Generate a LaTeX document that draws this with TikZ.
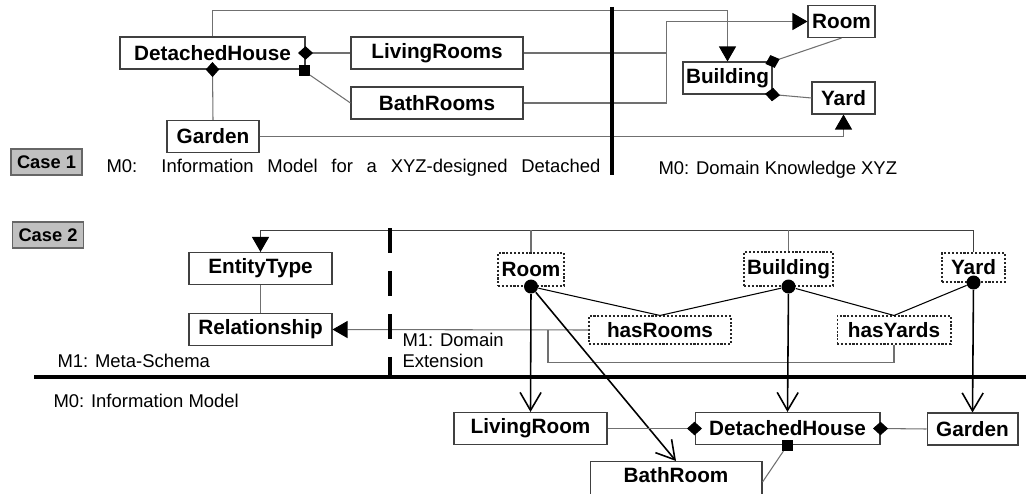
\documentclass[tikz,border=0pt]{standalone}
\usepackage{fontspec}
\setmainfont{Liberation Sans}
\usetikzlibrary{arrows.meta, calc}
\definecolor{cline}{HTML}{707070}
\definecolor{cedge}{HTML}{404040}
\definecolor{ccase}{HTML}{C0C0C0}
\tikzset{
  every picture/.style={line width=0.6pt},
  cls/.style={draw=cedge, fill=white, inner sep=0pt, minimum height=0.64cm,
              font=\fontsize{11.8}{14}\selectfont\bfseries},
  ext/.style={cls, draw=black!85, dash pattern=on 1.2pt off 1pt},
  casebox/.style={draw=black!60, fill=ccase, inner sep=0pt, minimum width=1.42cm,
                  minimum height=0.52cm, font=\fontsize{10.4}{12}\selectfont\bfseries},
  conn/.style={draw=cline, line width=0.6pt},
  agg/.style={{Diamond[length=0.3cm, width=0.27cm, color=black]}-, shorten <=-0.15cm},
  tri/.style={-{Triangle[length=0.3cm, width=0.34cm, color=black]}},
  inst/.style={-{Straight Barb[length=0.36cm, width=0.42cm]}, draw=black, line width=0.9pt},
  dot/.style={circle, fill=black, inner sep=0pt, minimum size=0.28cm},
  sqbox/.style={rectangle, fill=black, inner sep=0pt, minimum size=0.22cm},
  wall/.style={line width=2.8pt},
  note/.style={font=\fontsize{10.5}{11.9}\selectfont, align=left, inner sep=0pt},
}

\begin{document}
\begin{tikzpicture}[x=0.02cm, y=-0.02cm]
  \useasboundingbox (0,0) rectangle (1026,493);
  \clip (0,0) rectangle (1026,493);

  % case 1: information model and domain knowledge
  \foreach \n/\x/\y/\w/\t in {
      dh1/212.5/53/3.7/DetachedHouse, lr1/437/53/3.44/LivingRooms,
      br1/437/103/3.44/BathRooms, gd1/213/136.5/1.84/Garden,
      room1/841.5/21.5/1.34/Room, bld1/727.5/78/1.78/Building,
      yard1/843.5/98/1.26/Yard} {
    \node[cls, minimum width=\w cm] (\n) at (\x,\y) {\t};
  }
  \node[sqbox] (sq1) at (304,71) {};
  \coordinate (j1) at (666,53);
  \draw[conn, agg] (dh1.east) -- (lr1.west);
  \draw[conn] (sq1) -- (br1.west);
  \draw[conn, agg] (dh1.south) -- (gd1.north);
  \draw[conn, tri] (dh1.north) -- ++(0,-26) -| (bld1.north);
  \draw[conn] (lr1.east) -- (j1);
  \draw[conn, tri] (br1.east) -- ++(143,0) |- (room1.west);
  \draw[conn, tri] (gd1.east) -| (yard1.south);
  \draw[conn, agg] (bld1.north east) -- (room1.south);
  \draw[conn, agg] (bld1.south east) -- (yard1.west);
  \draw[wall] (612,7) -- (612,175);

  \node[casebox] (case1) at (46.5,162) {Case 1};
  \node[note, anchor=base west] (m0im) at (106,173)
    {\makebox[9.88cm][s]{M0: Information Model for a XYZ-designed Detached}};
  \node[note, anchor=base west] (m0dk) at (658,174) {M0: Domain Knowledge XYZ};

  % case 2: meta-schema, domain extension, information model
  \node[casebox] (case2) at (48,235) {Case 2};
  \foreach \n/\x/\y/\w/\t in {
      et/260.5/268.5/2.86/EntityType, rel/260.5/329.5/2.86/Relationship,
      lr2/530.5/428.5/3.06/LivingRoom, dh2/787.5/428.5/3.7/DetachedHouse,
      gd2/972.5/429/1.82/Garden} {
    \node[cls, minimum width=\w cm] (\n) at (\x,\y) {\t};
  }
  \node[cls, minimum width=3.44cm, anchor=north, text height=0.42cm, text depth=0.4cm]
    (bath) at (676,461) {BathRoom};
  \foreach \n/\x/\y/\w/\h/\t in {
      xroom/531/269.5/1.32/0.66/Room, xbld/788.5/269/1.78/0.68/Building,
      xyard/973.5/267.5/1.26/0.58/Yard, hasr/660/330/2.84/0.56/hasRooms,
      hasy/894/330/2.28/0.56/hasYards} {
    \node[ext, minimum width=\w cm, minimum height=\h cm] (\n) at (\x,\y) {\t};
  }
  \node[dot] (rdot) at (xroom.south) {};
  \node[dot] (bdot) at (xbld.south) {};
  \node[dot] (ydot) at (xyard.south) {};
  \node[sqbox] (sq2) at (dh2.south) {};

  \coordinate (j2) at (548,330);
  \draw[conn, draw=black!75, tri] (xyard.north) -- ++(0,-22) -| (et.north);
  \draw[conn] (xroom.north) -- ++(0,-22);
  \draw[conn] (xbld.north) -- ++(0,-21);
  \draw[conn] (et) -- (rel);
  \draw[conn, tri] (hasr.west) -- (rel.east);
  \draw[conn] (hasy.south) -- ++(0,18) -| (j2);
  \foreach \a/\b in {rdot/hasr, bdot/hasr, bdot/hasy, ydot/hasy}
    \draw (\a) -- (\b.north);
  \foreach \a/\b in {rdot/lr2, rdot/bath, bdot/dh2, ydot/gd2}
    \draw[inst] (\a) -- (\b.north);
  \draw[conn, agg] (dh2.west) -- (lr2.east);
  \draw[conn, agg] (dh2.east) -- (gd2.west);
  \draw[conn] (sq2) -- (bath.east);

  \draw[wall, line width=2.3pt, dash pattern=on 0.5cm off 0.36cm] (390,228) -- (390,377);
  \draw[wall] (34,377) -- (1026,377);
  \node[note, anchor=base west] (m1ms) at (57,367) {M1: Meta-Schema};
  \node[note, anchor=north west] (m1de) at (402,333) {M1: Domain\\Extension};
  \node[note, anchor=base west] (m0inf) at (53,407) {M0: Information Model};
\end{tikzpicture}
\end{document}
